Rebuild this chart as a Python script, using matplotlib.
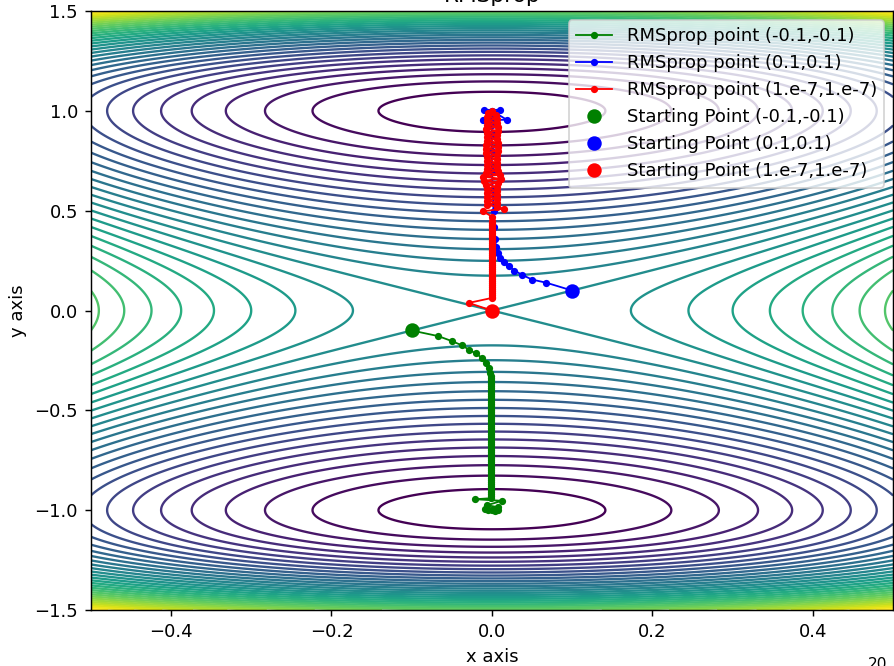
import numpy as np
import matplotlib
matplotlib.use("Agg")
from matplotlib import pyplot as plt

# surface: two minima at (0,+-1), saddle at (0,0)
def f(x, y):
    return 2 * x**2 + y**4 - 2 * y**2

levels = np.arange(-0.96, 1.03, 0.06)

# RMSprop path from (-0.1,-0.1)
gx = [-0.1, -0.067, -0.050, -0.037, -0.028, -0.020, -0.0125, -0.007, -0.004, -0.002,
      -0.001, -0.001, -0.001, -0.001, -0.001, -0.001, -0.001, -0.001, -0.001, -0.001,
      -0.001, -0.001, -0.001, -0.001, -0.001, -0.001, -0.001, -0.001, -0.001, -0.001,
      -0.001, -0.001, -0.001, -0.001, -0.001, -0.001, -0.001, -0.001, -0.001, -0.001,
      -0.001, -0.001, -0.001, -0.001, -0.001, -0.001, -0.001, -0.001, -0.001, -0.001,
      -0.001, -0.001, -0.001, -0.001, -0.001, -0.001, -0.001, -0.001, -0.001, -0.001,
      -0.001, -0.001, -0.001, -0.001, -0.001, -0.001, -0.001, -0.001, -0.001, -0.001,
      -0.001, -0.001,
      -0.021, 0.0125, -0.006, 0.008, -0.009, 0.007, -0.005, 0.004, 0.0]
gy = [-0.1, -0.128, -0.153, -0.175, -0.198, -0.215, -0.237, -0.262, -0.287, -0.312,
      -0.33, -0.34, -0.35, -0.36, -0.37, -0.38, -0.39, -0.40, -0.41, -0.42,
      -0.43, -0.44, -0.45, -0.46, -0.47, -0.48, -0.49, -0.50, -0.51, -0.52,
      -0.53, -0.54, -0.55, -0.56, -0.57, -0.58, -0.59, -0.60, -0.61, -0.62,
      -0.63, -0.64, -0.65, -0.66, -0.67, -0.68, -0.69, -0.70, -0.71, -0.72,
      -0.73, -0.74, -0.75, -0.76, -0.77, -0.78, -0.79, -0.80, -0.81, -0.82,
      -0.83, -0.84, -0.85, -0.86, -0.87, -0.88, -0.89, -0.90, -0.91, -0.92,
      -0.93, -0.94,
      -0.945, -0.953, -0.975, -0.985, -0.995, -1.0, -0.998, -1.003, -1.0]

# RMSprop path from (0.1,0.1)
bx = [0.1, 0.068, 0.05, 0.037, 0.028, 0.021, 0.0145, 0.010, 0.007, 0.005,
      0.004, 0.003, 0.002, 0.001, 0.0, 0.0, 0.0, 0.0, 0.0, 0.0,
      -0.010, 0.010, -0.0116, 0.0187, 0.0]
by = [0.1, 0.139, 0.155, 0.18, 0.2, 0.222, 0.242, 0.263, 0.288, 0.32,
      0.36, 0.42, 0.5, 0.6, 0.7, 0.8, 0.88, 0.93, 0.96, 0.98,
      1.005, 1.005, 0.955, 0.955, 1.0]

# RMSprop path from (1e-7,1e-7)
rx = [1e-7, -0.029, 0.0,
      0.0, 0.0, 0.0, 0.0, 0.0, 0.0, 0.0, 0.0, 0.0, 0.0,
      0.0, 0.0, 0.0, 0.0, 0.0, 0.0, 0.0, 0.0, 0.0, 0.0,
      0.0, 0.0, 0.0, 0.0, 0.0, 0.0, 0.0, 0.0, 0.0, 0.0,
      0.0, 0.0, 0.0, 0.0, 0.0, 0.0, 0.0, 0.0, 0.0,
      0.0, -0.011, 0.0145,
      0.006, -0.006, 0.006, -0.006, 0.006, -0.006, 0.006, -0.006, 0.006, -0.006,
      0.006, -0.007, 0.008, -0.010, 0.011, -0.011, 0.010, -0.008, 0.007, -0.006,
      0.006, -0.006, 0.006, -0.006, 0.006, -0.006, 0.006, -0.007, 0.008, -0.008,
      0.008, -0.008, 0.007, -0.006, 0.006, -0.006, 0.006, -0.006, 0.007, -0.008,
      0.007, -0.006, 0.006, -0.006, 0.006, -0.006, 0.005, -0.005, 0.0]
ry = [1e-7, 0.038, 0.063,
      0.07, 0.08, 0.09, 0.10, 0.11, 0.12, 0.13, 0.14, 0.15, 0.16,
      0.17, 0.18, 0.19, 0.20, 0.21, 0.22, 0.23, 0.24, 0.25, 0.26,
      0.27, 0.28, 0.29, 0.30, 0.31, 0.32, 0.33, 0.34, 0.35, 0.36,
      0.37, 0.38, 0.39, 0.40, 0.41, 0.42, 0.43, 0.44, 0.45,
      0.47, 0.497, 0.51,
      0.52, 0.53, 0.54, 0.55, 0.56, 0.57, 0.58, 0.59, 0.60, 0.61,
      0.62, 0.63, 0.64, 0.65, 0.66, 0.67, 0.68, 0.69, 0.70, 0.71,
      0.72, 0.73, 0.74, 0.75, 0.76, 0.77, 0.78, 0.79, 0.80, 0.81,
      0.82, 0.83, 0.84, 0.85, 0.86, 0.87, 0.88, 0.89, 0.90, 0.91,
      0.92, 0.93, 0.94, 0.95, 0.96, 0.97, 0.98, 0.99, 1.00]

x = np.linspace(-0.5, 0.5, 401)
y = np.linspace(-1.5, 1.5, 601)
X, Y = np.meshgrid(x, y)
Z = f(X, Y)

dpi = 130
fig = plt.figure(figsize=(894 / dpi, 666 / dpi), dpi=dpi)
ax = fig.add_axes([0.1015, 0.084, 0.8975, 0.8995])

ax.contour(X, Y, Z, levels=levels, cmap='viridis', linewidths=1.3)

ax.plot(gx, gy, '.-', color='green', lw=1.0, label='RMSprop point (-0.1,-0.1)')
ax.plot(bx, by, '.-', color='blue', lw=1.0, label='RMSprop point (0.1,0.1)')
ax.plot(rx, ry, '.-', color='red', lw=1.0, label='RMSprop point (1.e-7,1.e-7)')
ax.plot(gx[0], gy[0], 'o', color='green', markersize=7, label='Starting Point (-0.1,-0.1)')
ax.plot(bx[0], by[0], 'o', color='blue', markersize=7, label='Starting Point (0.1,0.1)')
ax.plot(rx[0], ry[0], 'o', color='red', markersize=7, label='Starting Point (1.e-7,1.e-7)')

ax.set_xlim(-0.5, 0.5)
ax.set_ylim(-1.5, 1.5)
ax.set_title('RMSprop', pad=5)
ax.set_xlabel('x axis')
ax.set_ylabel('y axis')
ax.legend(loc='upper right')

fig.text(868 / 894, 1 - 657 / 666, '20', fontsize=8.5, va='top', ha='left')

fig.savefig('out.png', dpi=dpi)
